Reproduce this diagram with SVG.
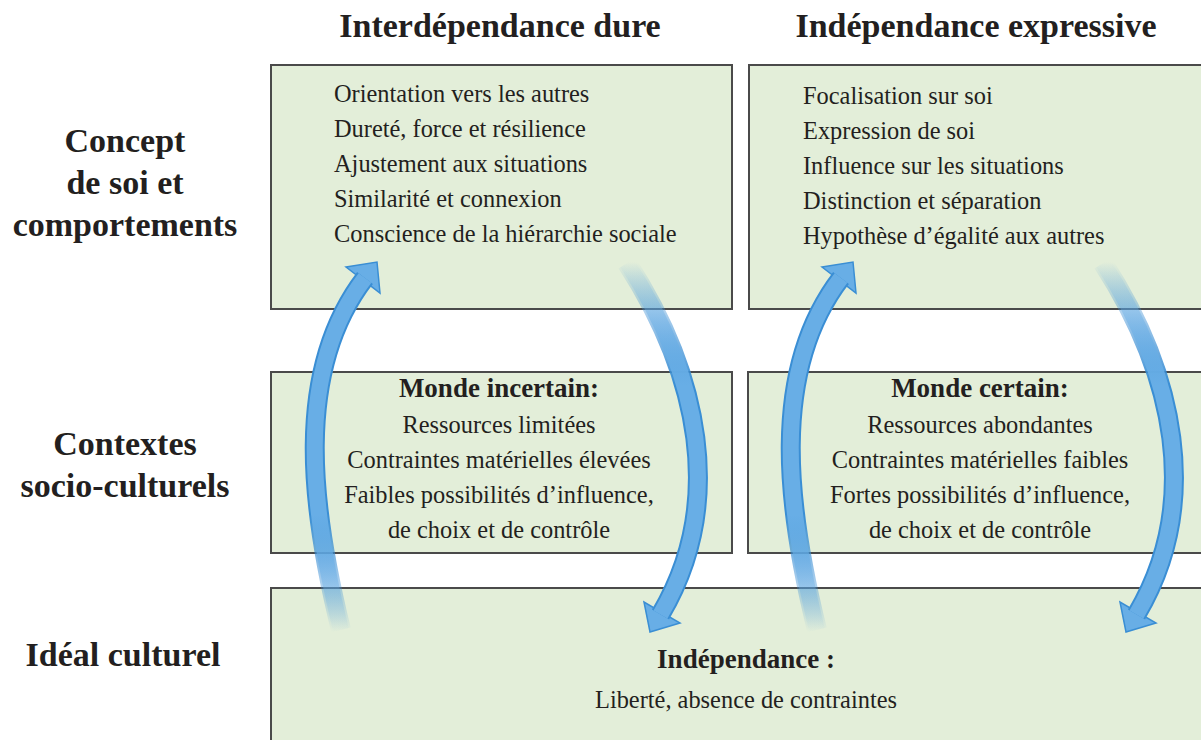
<svg xmlns="http://www.w3.org/2000/svg" width="1201" height="740" viewBox="0 0 1201 740">
<style>
.box{fill:#e3eed9;stroke:#4a4a4a;stroke-width:2}
text{font-family:"Liberation Serif","Times New Roman",serif;fill:#231f20}
.hd{font-size:34px;font-weight:bold;text-anchor:middle}
.tx{font-size:24.4px}
.c{text-anchor:middle}
.b{font-weight:bold;font-size:27px}
.edge{fill:none;stroke-width:20}
.core{fill:none;stroke-width:16}
.head{fill:#68aee6;stroke:#3a8ed4;stroke-width:1.5;stroke-linejoin:miter}
</style>
<defs>
<linearGradient id="upEdge" gradientUnits="userSpaceOnUse" x1="0" y1="632" x2="0" y2="515">
<stop offset="0" stop-color="#3a8ed4" stop-opacity="0"/>
<stop offset="1" stop-color="#3a8ed4" stop-opacity="1"/>
</linearGradient>
<linearGradient id="upCore" gradientUnits="userSpaceOnUse" x1="0" y1="632" x2="0" y2="515">
<stop offset="0" stop-color="#68aee6" stop-opacity="0"/>
<stop offset="1" stop-color="#68aee6" stop-opacity="1"/>
</linearGradient>
<linearGradient id="dnEdge" gradientUnits="userSpaceOnUse" x1="0" y1="262" x2="0" y2="385">
<stop offset="0" stop-color="#3a8ed4" stop-opacity="0"/>
<stop offset="1" stop-color="#3a8ed4" stop-opacity="1"/>
</linearGradient>
<linearGradient id="dnCore" gradientUnits="userSpaceOnUse" x1="0" y1="262" x2="0" y2="385">
<stop offset="0" stop-color="#68aee6" stop-opacity="0"/>
<stop offset="1" stop-color="#68aee6" stop-opacity="1"/>
</linearGradient>
<g id="cycle">
<polygon class="head" points="346,267 377,262 380,293"/>
<path class="edge" stroke="url(#upEdge)" d="M341,630 C312,512 292,373 365,278"/>
<path class="core" stroke="url(#upCore)" d="M341,630 C312,512 292,373 365,278"/>
<polygon class="head" points="644,602 650,632 680,623"/>
<path class="edge" stroke="url(#dnEdge)" d="M627,263 C698,373 727,502 660.5,614.5"/>
<path class="core" stroke="url(#dnCore)" d="M627,263 C698,373 727,502 660.5,614.5"/>
</g>
</defs>

<g id="headers">
<text class="hd" x="500" y="37">Interdépendance dure</text>
<text class="hd" x="976" y="37">Indépendance expressive</text>
</g>

<g id="row-labels">
<text class="hd" x="125" y="152">Concept</text>
<text class="hd" x="125" y="194">de soi et</text>
<text class="hd" x="125" y="236">comportements</text>
<text class="hd" x="125" y="455">Contextes</text>
<text class="hd" x="125" y="497">socio-culturels</text>
<text class="hd" x="123" y="666">Idéal culturel</text>
</g>

<g id="box-interdependance">
<rect class="box" x="271" y="65" width="461" height="244"/>
<text class="tx" x="334" y="102">Orientation vers les autres</text>
<text class="tx" x="334" y="137">Dureté, force et résilience</text>
<text class="tx" x="334" y="172">Ajustement aux situations</text>
<text class="tx" x="334" y="207">Similarité et connexion</text>
<text class="tx" x="334" y="242">Conscience de la hiérarchie sociale</text>
</g>

<g id="box-independance">
<rect class="box" x="749" y="65" width="470" height="244"/>
<text class="tx" x="803" y="104">Focalisation sur soi</text>
<text class="tx" x="803" y="139">Expression de soi</text>
<text class="tx" x="803" y="174">Influence sur les situations</text>
<text class="tx" x="803" y="209">Distinction et séparation</text>
<text class="tx" x="803" y="244">Hypothèse d’égalité aux autres</text>
</g>

<g id="box-monde-incertain">
<rect class="box" x="271" y="372" width="461" height="181"/>
<text class="tx c b" x="499" y="397">Monde incertain:</text>
<text class="tx c" x="499" y="433">Ressources limitées</text>
<text class="tx c" x="499" y="468">Contraintes matérielles élevées</text>
<text class="tx c" x="499" y="503">Faibles possibilités d’influence,</text>
<text class="tx c" x="499" y="538">de choix et de contrôle</text>
</g>

<g id="box-monde-certain">
<rect class="box" x="748" y="372" width="470" height="181"/>
<text class="tx c b" x="980" y="397">Monde certain:</text>
<text class="tx c" x="980" y="433">Ressources abondantes</text>
<text class="tx c" x="980" y="468">Contraintes matérielles faibles</text>
<text class="tx c" x="980" y="503">Fortes possibilités d’influence,</text>
<text class="tx c" x="980" y="538">de choix et de contrôle</text>
</g>

<g id="box-ideal">
<rect class="box" x="271" y="588" width="948" height="170"/>
<text class="tx c b" x="746" y="668">Indépendance :</text>
<text class="tx c" x="746" y="708" font-size="25.5">Liberté, absence de contraintes</text>
</g>

<g id="connectors">
<use href="#cycle"/>
<use href="#cycle" transform="translate(476,0)"/>
</g>
</svg>
